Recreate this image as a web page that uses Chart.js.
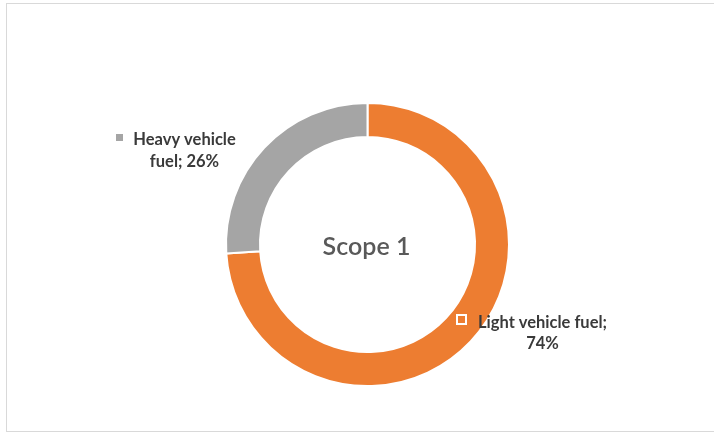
<!DOCTYPE html>
<html><head><meta charset="utf-8">
<script src="https://cdn.jsdelivr.net/npm/chart.js@4"></script>
<style>
html,body{margin:0;padding:0;background:#fff;width:714px;height:435px;overflow:hidden;}
#frame{position:absolute;left:6px;top:3px;width:720px;height:429px;border:1px solid #d9d9d9;box-sizing:border-box;}
#wrap{position:absolute;left:0;top:0;width:714px;height:435px;}
</style></head>
<body>
<div id="frame"></div>
<div id="wrap"><canvas id="c" width="714" height="435"></canvas></div>
<script>
const categories = ["Light vehicle fuel", "Heavy vehicle fuel"];
const shares = [74, 26];
const colors = ["#ED7D31", "#A5A5A5"];
const centerTitle = "Scope 1";

const labelPlugin = {
  id: 'labels',
  afterDraw(chart) {
    const ctx = chart.ctx;
    const meta = chart.getDatasetMeta(0);
    const arc = meta.data[0];
    const cx = arc.x, cy = arc.y;
    ctx.save();
    // center title
    ctx.fillStyle = '#595959';
    ctx.font = '600 25px Lato';
    ctx.textAlign = 'center';
    ctx.textBaseline = 'alphabetic';
    ctx.fillText(centerTitle, cx - 1, cy + 10);

    ctx.font = 'bold 16.5px Lato';
    ctx.fillStyle = '#3a3a3a';
    // Heavy vehicle label (index 1)
    const hx = cx - 183, hy = cy - 100;
    ctx.fillText('Heavy vehicle', hx, hy);
    ctx.fillText('fuel; ' + shares[1] + '%', hx, hy + 22);
    const w1 = ctx.measureText('Heavy vehicle').width;
    ctx.fillStyle = colors[1];
    ctx.fillRect(Math.round(hx - w1/2 - 17), Math.round(hy - 11), 7, 7);

    // Light vehicle label (index 0)
    const lx = cx + 175, ly = cy + 83;
    ctx.fillStyle = '#3a3a3a';
    ctx.fillText('Light vehicle fuel;', lx, ly);
    ctx.fillText(shares[0] + '%', lx, ly + 21);
    const w0 = ctx.measureText('Light vehicle fuel;').width;
    const mx = Math.round(lx - w0/2 - 22), my = Math.round(ly - 14);
    ctx.fillStyle = '#ffffff';
    ctx.fillRect(mx, my, 11, 11);
    ctx.fillStyle = colors[0];
    ctx.fillRect(mx + 2, my + 2, 7, 7);
    ctx.restore();
  }
};

new Chart(document.getElementById('c'), {
  type: 'doughnut',
  data: {
    labels: categories,
    datasets: [{
      data: shares,
      backgroundColor: colors,
      borderColor: '#ffffff',
      borderWidth: 2
    }]
  },
  options: {
    responsive: false,
    animation: false,
    cutout: '76%',
    layout: { padding: { left: 225, right: 204, top: 102, bottom: 48 } },
    plugins: { legend: { display: false }, tooltip: { enabled: false } }
  },
  plugins: [labelPlugin]
});
</script>
</body></html>
